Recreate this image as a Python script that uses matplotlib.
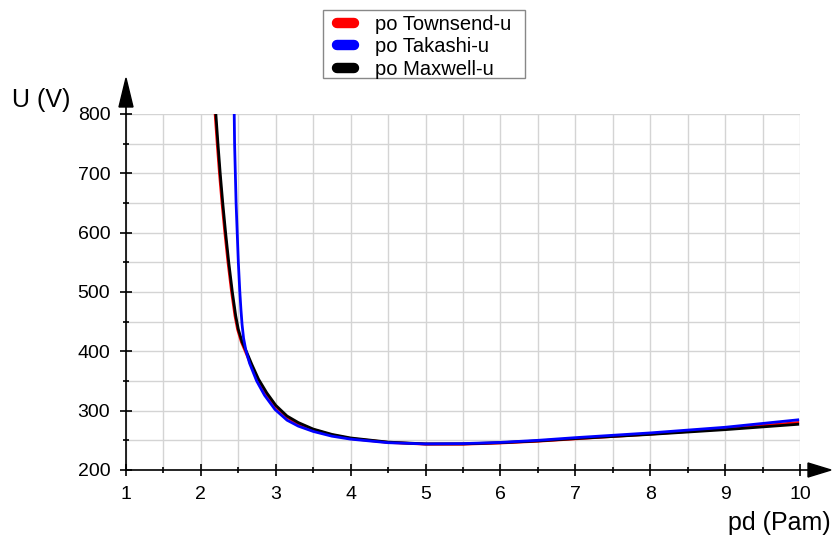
import numpy as np
import matplotlib.pyplot as plt
from matplotlib.patches import Polygon, Rectangle
from matplotlib.ticker import MultipleLocator

plt.rcParams['font.family'] = ['Liberation Sans', 'DejaVu Sans']

# values
townsend_pd = [2.19, 2.218, 2.248, 2.282, 2.32, 2.362, 2.41, 2.455, 2.49, 2.54, 2.60, 2.67, 2.76, 2.87, 3.00,
               3.15, 3.30, 3.50, 3.75, 4.00, 4.50, 5.00, 5.50, 6.00, 6.50, 7.00, 8.00, 9.00, 9.97]
townsend_u = [800, 750, 700, 650, 600, 550, 500, 460, 437, 416, 398, 377, 352, 329, 307,
              289, 278, 268, 259, 253, 246.5, 243.5, 243.5, 245.5, 248.5, 252.5, 260.5, 269.5, 280]

takashi_pd = [2.445, 2.45, 2.46, 2.47, 2.485, 2.50, 2.52, 2.535, 2.55, 2.57, 2.60, 2.65, 2.745, 2.85, 2.99,
              3.15, 3.30, 3.50, 3.75, 4.00, 4.50, 5.00, 5.50, 6.00, 6.50, 7.00, 8.00, 9.00, 9.97]
takashi_u = [800, 750, 700, 650, 600, 550, 500, 470, 445, 422, 402, 380, 350, 326, 302,
             284, 274, 265, 257, 252, 246, 244, 244.5, 246.5, 250, 254.5, 262.5, 272, 284.5]

maxwell_pd = [2.20, 2.228, 2.258, 2.292, 2.33, 2.372, 2.42, 2.465, 2.50, 2.55, 2.61, 2.68, 2.77, 2.88, 3.00,
              3.15, 3.30, 3.50, 3.75, 4.00, 4.50, 5.00, 5.50, 6.00, 6.50, 7.00, 8.00, 9.00, 9.97]
maxwell_u = [800, 750, 700, 650, 600, 550, 500, 460, 437, 416, 399, 378, 353, 330, 309,
             291, 280, 269, 260, 254, 247, 244, 244, 246, 249, 253, 260, 268, 277]

x_ticks = [1, 2, 3, 4, 5, 6, 7, 8, 9, 10]
y_ticks = [200, 300, 400, 500, 600, 700, 800]

fig = plt.figure(figsize=(8.33, 5.39), dpi=100)
ax = fig.add_axes([126/833, 1-470/539, 674/833, 356/539])

ax.plot(townsend_pd, townsend_u, color='#ff0000', lw=2, label='po Townsend-u')
ax.plot(maxwell_pd, maxwell_u, color='black', lw=2, zorder=3)
ax.plot(takashi_pd, takashi_u, color='#0000ff', lw=2, label='po Takashi-u', zorder=4)
ax.plot([], [], color='black', lw=2, label='po Maxwell-u')

ax.set_xlim(1, 10)
ax.set_ylim(200, 800)
ax.set_xticks(x_ticks)
ax.set_yticks(y_ticks)
ax.xaxis.set_minor_locator(MultipleLocator(0.5))
ax.yaxis.set_minor_locator(MultipleLocator(50))
ax.grid(True, which='both', color='#d4d4d4', lw=1)
ax.set_axisbelow(True)

for s in ['top', 'right']:
    ax.spines[s].set_visible(False)
for s in ['left', 'bottom']:
    ax.spines[s].set_linewidth(1.2)
ax.tick_params(which='major', direction='inout', length=8.6, width=1.2, labelsize=14, pad=7)
ax.tick_params(which='minor', direction='inout', length=4.3, width=1.2)

# arrow heads on the axes
ax.plot([1.0, 1.012], [0, 0], color='black', lw=1.2, transform=ax.transAxes, clip_on=False)
ax.add_patch(Polygon([[1.0119, -0.0197], [1.0119, 0.0197], [1.046, 0]], closed=True,
                     color='black', transform=ax.transAxes, clip_on=False))
ax.plot([0, 0], [1.0, 1.02], color='black', lw=1.2, transform=ax.transAxes, clip_on=False)
ax.add_patch(Polygon([[-0.0104, 1.0197], [0.0104, 1.0197], [0, 1.101]], closed=True,
                     color='black', transform=ax.transAxes, clip_on=False))

fig.text(12/833, 1-100/539, 'U (V)', fontsize=18, ha='left', va='center')
fig.text(831/833, 1-523/539, 'pd (Pam)', fontsize=18, ha='right', va='center')

# legend box drawn separately so its padding matches the reference
fig.patches.append(Rectangle((323/833, 1-78/539), 202/833, 68/539, transform=fig.transFigure,
                             facecolor='white', edgecolor='#888888', lw=1, zorder=-1))
leg = ax.legend(loc='upper left', bbox_to_anchor=(331/833, 1-9/539), bbox_transform=fig.transFigure,
                borderaxespad=0, fontsize=14.5, handlelength=0.85, handletextpad=1.05, labelspacing=0.17,
                borderpad=0.3, frameon=False)
for h in leg.legend_handles:
    h.set_linewidth(7.5)
    h.set_solid_capstyle('round')

fig.savefig('out.png', dpi=100)
